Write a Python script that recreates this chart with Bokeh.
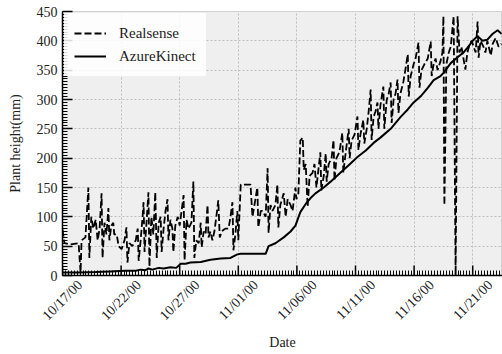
import numpy as np
import pandas as pd
from math import pi
from bokeh.plotting import figure
from bokeh.models import FixedTicker, Range1d, DatetimeAxis, DatetimeTickFormatter
from bokeh.embed import file_html
from bokeh.resources import INLINE

start = pd.Timestamp("2000-10-17")

# Realsense: hours since 10/17/00 00:00 and plant height (mm)
rs_hours = [0, 4, 16, 33, 37, 39, 47, 53, 55, 59, 63, 68, 72, 76, 80, 82, 86, 90, 94, 96,
            100, 104, 106, 111, 115, 121, 127, 131, 133, 137, 143, 150, 154, 156, 160, 164, 166, 168, 172, 176,
            178, 182, 186, 190, 193, 197, 201, 203, 207, 211, 215, 217, 221, 225, 227, 231, 236, 240, 248, 250,
            254, 258, 264, 268, 270, 274, 279, 283, 285, 289, 293, 297, 299, 303, 307, 311, 315, 319, 322, 326,
            330, 334, 340, 344, 348, 350, 354, 358, 360, 365, 369, 375, 385, 389, 393, 399, 401, 406, 410, 416,
            420, 422, 426, 430, 436, 440, 442, 446, 453, 457, 461, 467, 471, 477, 479, 483, 487, 492, 494, 498,
            502, 506, 512, 516, 520, 524, 528, 530, 535, 539, 541, 545, 551, 555, 557, 561, 567, 573, 575, 580,
            586, 588, 592, 598, 604, 606, 610, 616, 618, 623, 627, 631, 633, 637, 641, 645, 647, 651, 657, 659,
            664, 668, 672, 674, 678, 682, 686, 688, 692, 698, 702, 707, 709, 713, 719, 723, 729, 731, 735, 741,
            748, 754, 756, 760, 764, 768, 774, 778, 780, 782, 786, 791, 795, 801, 805, 809, 813, 817, 821, 825,
            829, 834, 838, 842, 846, 850, 852, 856, 862, 866, 870, 877, 881, 887, 893, 899]
rs_vals = [78, 55, 53, 55, 5, 60, 65, 150, 30, 100, 80, 95, 60, 80, 140, 30, 90, 70, 115, 60,
           85, 90, 70, 70, 50, 45, 60, 82, 22, 55, 50, 60, 80, 25, 60, 100, 125, 40, 90, 142,
           15, 100, 70, 142, 30, 90, 100, 40, 80, 110, 130, 60, 95, 80, 40, 85, 100, 85, 137, 26,
           95, 80, 90, 160, 30, 60, 55, 90, 48, 75, 70, 120, 65, 75, 60, 75, 100, 128, 65, 75,
           78, 80, 80, 100, 125, 43, 70, 110, 60, 155, 155, 155, 155, 100, 120, 150, 82, 110, 110, 100,
           183, 73, 120, 110, 120, 155, 82, 120, 140, 100, 130, 120, 110, 150, 130, 140, 230, 235, 180, 190,
           117, 170, 175, 190, 150, 180, 210, 145, 170, 208, 160, 190, 200, 231, 162, 200, 210, 243, 175, 210,
           250, 200, 230, 240, 271, 214, 240, 265, 225, 250, 280, 317, 231, 270, 280, 295, 250, 290, 322, 250,
           300, 310, 329, 260, 300, 310, 334, 277, 310, 330, 350, 377, 305, 340, 360, 370, 397, 320, 350, 360,
           370, 399, 340, 360, 370, 350, 365, 380, 442, 120, 360, 380, 390, 442, 0, 442, 380, 390, 370, 351,
           380, 395, 400, 390, 380, 433, 371, 400, 390, 380, 400, 375, 395, 405, 390, 395]

# AzureKinect
ak_hours = [0, 37, 68, 98, 129, 150, 160, 170, 176, 184, 197, 207, 221, 233, 242, 252, 262, 283, 303, 324,
            344, 358, 365, 416, 422, 436, 453, 467, 477, 487, 498, 508, 518, 535, 549, 569, 586, 604, 621, 637,
            651, 672, 692, 707, 719, 733, 748, 760, 774, 780, 795, 809, 821, 829, 840, 850, 860, 870, 881, 891, 899]
ak_vals = [5, 5, 6, 7, 8, 8, 10, 9, 12, 10, 13, 12, 14, 13, 20, 20, 22, 23, 27, 29,
           30, 36, 37, 37, 50, 55, 65, 75, 85, 108, 122, 132, 140, 150, 160, 175, 188, 202, 213, 226,
           235, 250, 270, 283, 295, 305, 320, 333, 340, 345, 362, 372, 380, 388, 400, 408, 400, 402, 412, 418, 412]

tick_dates = ["2000-10-17", "2000-10-22", "2000-10-27", "2000-11-01",
              "2000-11-06", "2000-11-11", "2000-11-16", "2000-11-21"]
y_ticks = [0, 50, 100, 150, 200, 250, 300, 350, 400, 450]

rs_t = start + pd.to_timedelta(rs_hours, unit="h")
ak_t = start + pd.to_timedelta(ak_hours, unit="h")
tick_t = pd.to_datetime(tick_dates)
tick_ms = [pd.Timestamp(d).value / 1e6 for d in tick_dates]

x_end = start + pd.Timedelta(hours=901)
# labels are right-anchored when rotated; shift their range so each label is centred under its tick
label_shift = pd.Timedelta(hours=36)

p = figure(width=502, height=354, x_axis_type="datetime", output_backend="svg",
           toolbar_location=None, x_range=Range1d(start, x_end), y_range=Range1d(0, 450),
           min_border_left=62, min_border_right=0, min_border_top=11, min_border_bottom=79)
p.extra_x_ranges = {"lab": Range1d(start - label_shift, x_end - label_shift)}

p.background_fill_color = "#efefef"
p.border_fill_color = "white"
p.outline_line_color = "#d0d0d0"

p.line(rs_t, rs_vals, line_color="black", line_width=1.8, line_dash="7 3", legend_label="Realsense")
p.line(ak_t, ak_vals, line_color="black", line_width=2, legend_label="AzureKinect")

# major x ticks pointing into the plot
p.segment(x0=tick_t, y0=[0] * len(tick_t), x1=tick_t, y1=[17] * len(tick_t),
          line_color="black", line_width=1.5)

x_minor = [pd.Timestamp(start).value / 1e6 + i * 6 * 3600 * 1000 for i in range(0, 152)]
p.xaxis.ticker = FixedTicker(ticks=[], minor_ticks=x_minor)
p.yaxis.ticker = FixedTicker(ticks=y_ticks, minor_ticks=list(range(0, 451, 5)))

fmt = DatetimeTickFormatter(hours="%m/%d/%y", days="%m/%d/%y", months="%m/%d/%y",
                            years="%m/%d/%y", hourmin="%m/%d/%y", minutes="%m/%d/%y")
lab_axis = DatetimeAxis(x_range_name="lab", ticker=FixedTicker(ticks=tick_ms), formatter=fmt)
lab_axis.axis_line_alpha = 0
lab_axis.major_tick_line_alpha = 0
lab_axis.minor_tick_line_alpha = 0
lab_axis.major_tick_in = 0
lab_axis.major_tick_out = 0
lab_axis.major_label_orientation = pi / 4
lab_axis.major_label_standoff = 7
p.add_layout(lab_axis, "below")

for ax in (p.xaxis[0], p.yaxis[0]):
    ax.axis_line_color = "black"
    ax.axis_line_width = 1.5
    ax.major_tick_in = 10
    ax.major_tick_out = 0
    ax.minor_tick_in = 5
    ax.minor_tick_out = 0
    ax.major_tick_line_width = 1.5
    ax.major_tick_line_color = "black"
    ax.minor_tick_line_color = "black"
    ax.major_label_standoff = 0

for ax in (lab_axis, p.yaxis[0]):
    ax.major_label_text_font = "Liberation Serif"
    ax.major_label_text_font_size = "14px"
    ax.major_label_text_color = "#222222"
    ax.axis_label_text_font = "Liberation Serif"
    ax.axis_label_text_font_size = "14px"
    ax.axis_label_text_font_style = "normal"
    ax.axis_label_text_color = "#222222"

p.yaxis.major_label_standoff = 5
lab_axis.axis_label = "Date"
lab_axis.axis_label_standoff = 4
p.yaxis.axis_label = "Plant height(mm)"
p.yaxis.axis_label_standoff = 11

for g in (p.xgrid, p.ygrid):
    g.grid_line_color = "#bdbdbd"
    g.grid_line_dash = "2 2"
    g.grid_line_width = 1
p.xgrid.ticker = FixedTicker(ticks=tick_ms)

p.legend.location = "top_left"
p.legend.margin = 2
p.legend.padding = 10
p.legend.glyph_width = 32
p.legend.glyph_height = 20
p.legend.spacing = 3
p.legend.label_standoff = 13
p.legend.label_text_font = "Liberation Serif"
p.legend.label_text_font_size = "15px"
p.legend.label_text_color = "#222222"
p.legend.background_fill_color = "white"
p.legend.background_fill_alpha = 0.85
p.legend.border_line_alpha = 0

open("out.html", "w").write(file_html(p, INLINE))
